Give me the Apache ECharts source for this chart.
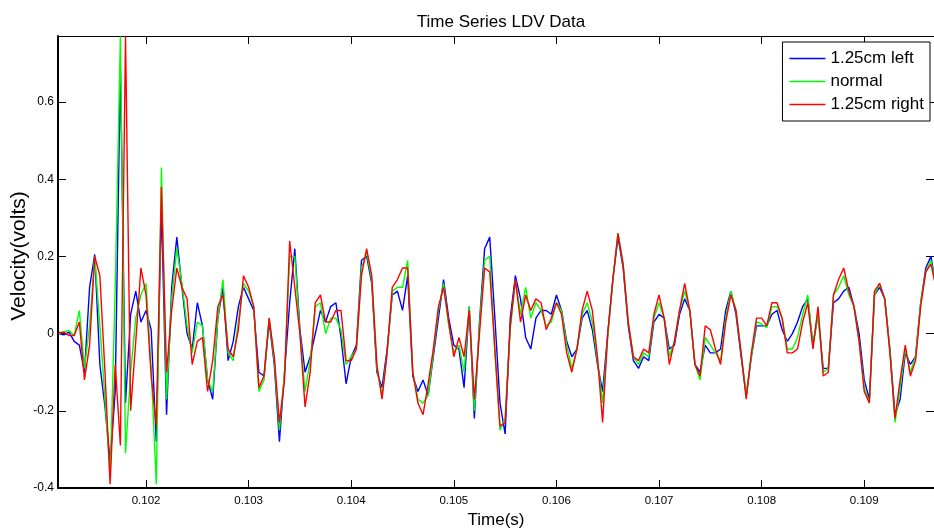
<!DOCTYPE html>
<html>
<head>
<meta charset="utf-8">
<script src="https://cdn.jsdelivr.net/npm/echarts@6/dist/echarts.min.js"></script>
<style>
  html, body { margin: 0; padding: 0; background: #fff; }
  #main { width: 934px; height: 528px; }
</style>
</head>
<body>
<div id="main"></div>
<script>
// LDV velocity record, three probe positions, sampled every 50 microseconds
const T0 = 0.10115;
const DT = 0.00005;

const leftValues = [
  0.0, -0.003, 0.004, -0.02, -0.03, -0.1, 0.12, 0.205, -0.08, -0.19,
  -0.33, -0.15, 0.69, -0.18, 0.05, 0.11, 0.03, 0.06, 0.01, -0.28,
  0.33, -0.21, 0.12, 0.25, 0.12, 0.0, -0.04, 0.08, 0.02, -0.12,
  -0.17, 0.04, 0.12, -0.07, -0.02, 0.07, 0.12, 0.09, 0.06, -0.1,
  -0.11, 0.03, -0.08, -0.28, -0.1, 0.08, 0.22, 0.01, -0.1, -0.06,
  0.0, 0.06, 0.03, 0.07, 0.08, -0.01, -0.13, -0.06, -0.03, 0.19,
  0.2, 0.13, -0.1, -0.14, -0.04, 0.1, 0.11, 0.06, 0.15, -0.11,
  -0.15, -0.12, -0.16, -0.06, 0.04, 0.14, 0.04, -0.03, -0.04, -0.14,
  0.07, -0.22, 0.03, 0.22, 0.25, 0.04, -0.18, -0.26, 0.04, 0.15,
  0.09, -0.01, -0.04, 0.04, 0.06, 0.06, 0.05, 0.1, 0.06, -0.02,
  -0.06, -0.04, 0.04, 0.06, 0.01, -0.08, -0.15, 0.0, 0.14, 0.25,
  0.17, 0.02, -0.07, -0.09, -0.06, -0.07, 0.03, 0.05, 0.04, -0.04,
  -0.03, 0.05, 0.09, 0.06, -0.08, -0.1, -0.03, -0.05, -0.05, -0.04,
  0.06, 0.11, 0.05, -0.06, -0.16, -0.06, 0.02, 0.02, 0.02, 0.05,
  0.06, 0.01, -0.02, 0.0, 0.03, 0.07, 0.09, -0.03, 0.05, -0.09,
  -0.09, 0.08, 0.09, 0.11, 0.12, 0.07, 0.0, -0.12, -0.17, 0.1,
  0.12, 0.09, -0.04, -0.21, -0.17, -0.05, -0.08, -0.06, 0.08, 0.17,
  0.2, 0.12
];

const normalValues = [
  0.0, 0.005, 0.008, -0.005, 0.06, -0.09, 0.02, 0.2, 0.02, -0.17,
  -0.37, 0.12, 0.77, -0.31, -0.1, 0.04, 0.1, 0.13, -0.09, -0.39,
  0.43, -0.17, 0.09, 0.22, 0.13, 0.02, -0.05, 0.03, 0.02, -0.12,
  -0.15, 0.04, 0.14, -0.05, -0.07, 0.03, 0.13, 0.11, 0.07, -0.15,
  -0.12, 0.04, -0.07, -0.25, -0.1, 0.2, 0.2, 0.0, -0.15, -0.07,
  0.07, 0.08, 0.0, 0.04, 0.04, 0.01, -0.08, -0.06, -0.04, 0.17,
  0.21, 0.14, -0.09, -0.16, -0.05, 0.11, 0.12, 0.12, 0.19, -0.1,
  -0.17, -0.18, -0.16, -0.05, 0.06, 0.13, 0.02, -0.05, -0.03, -0.1,
  0.07, -0.2, 0.02, 0.19, 0.2, -0.05, -0.25, -0.22, 0.01, 0.14,
  0.05, 0.12, 0.04, 0.08, 0.06, 0.02, 0.03, 0.08, 0.06, -0.03,
  -0.09, -0.04, 0.05, 0.08, 0.03, -0.07, -0.18, -0.01, 0.14, 0.26,
  0.18, 0.03, -0.06, -0.08, -0.05, -0.06, 0.04, 0.08, 0.04, -0.06,
  -0.02, 0.06, 0.11, 0.06, -0.08, -0.12, -0.01, -0.03, -0.05, -0.07,
  0.04, 0.11, 0.06, -0.05, -0.16, -0.06, 0.03, 0.025, 0.015, 0.07,
  0.07, 0.04, -0.04, -0.04, -0.01, 0.05, 0.1, -0.03, 0.05, -0.1,
  -0.09, 0.1, 0.12, 0.15, 0.1, 0.07, -0.02, -0.14, -0.18, 0.1,
  0.13, 0.09, -0.04, -0.23, -0.14, -0.04, -0.1, -0.06, 0.08, 0.16,
  0.19, 0.12
];

const rightValues = [
  0.003, 0.003, -0.005, -0.005, 0.03, -0.12, -0.03, 0.2, 0.15, -0.1,
  -0.39, -0.08, -0.29, 0.77, -0.2, -0.02, 0.17, 0.1, -0.11, -0.24,
  0.38, -0.1, 0.06, 0.17, 0.12, 0.09, -0.08, -0.02, -0.01, -0.15,
  -0.07, 0.07, 0.1, -0.04, -0.06, 0.01, 0.15, 0.12, 0.07, -0.14,
  -0.11, 0.04, -0.06, -0.23, -0.12, 0.24, 0.12, 0.0, -0.19, -0.1,
  0.08, 0.1, 0.03, 0.03, 0.06, 0.06, -0.07, -0.07, -0.04, 0.15,
  0.22, 0.15, -0.08, -0.17, -0.05, 0.12, 0.14, 0.17, 0.17, -0.1,
  -0.18, -0.21, -0.13, -0.04, 0.07, 0.12, 0.03, -0.06, -0.01, -0.06,
  0.06, -0.17, 0.0, 0.17, 0.16, -0.04, -0.24, -0.23, 0.02, 0.14,
  0.03, 0.1, 0.06, 0.09, 0.08, 0.01, 0.04, 0.08, 0.05, -0.05,
  -0.1, -0.04, 0.06, 0.11, 0.06, -0.06, -0.23, 0.0, 0.14, 0.26,
  0.18, 0.03, -0.06, -0.07, -0.04, -0.05, 0.05, 0.1, 0.04, -0.08,
  -0.02, 0.06, 0.13, 0.06, -0.08, -0.11, 0.02, 0.01, -0.04, -0.08,
  0.03, 0.1, 0.06, -0.05, -0.17, -0.05, 0.04, 0.04, 0.02, 0.08,
  0.08, 0.04, -0.05, -0.05, -0.04, 0.03, 0.08, -0.04, 0.07, -0.11,
  -0.1, 0.1, 0.14, 0.17, 0.11, 0.07, -0.02, -0.15, -0.18, 0.11,
  0.13, 0.09, -0.05, -0.22, -0.12, -0.03, -0.11, -0.07, 0.07, 0.16,
  0.18, 0.12
];

const seriesNames = ['1.25cm left', 'normal', '1.25cm right'];
const seriesColors = ['#0000ff', '#00ff00', '#ff0000'];
const timeTicks = [0.102, 0.103, 0.104, 0.105, 0.106, 0.107, 0.108, 0.109];
const velocityTicks = [-0.4, -0.2, 0, 0.2, 0.4, 0.6];

const T_MIN = 0.101142;
const T_MAX = 0.10968;
const V_MIN = -0.4;
const V_MAX = 0.771;

const FONT = "'Liberation Sans', Arial, Helvetica, sans-serif";

function toPairs(values) {
  return values.map((v, i) => [T0 + i * DT, v]);
}

const chart = echarts.init(document.getElementById('main'), null, { renderer: 'canvas' });

const tickStyle = { inside: true, length: 8, lineStyle: { color: '#000', width: 1 } };

chart.setOption({
  backgroundColor: '#fff',
  animation: false,
  title: {
    text: 'Time Series LDV Data',
    left: 496,
    top: 9,
    textAlign: 'center',
    textStyle: { fontFamily: FONT, fontSize: 17, fontWeight: 'normal', color: '#000' }
  },
  legend: {
    orient: 'vertical',
    right: 4,
    top: 42,
    padding: [7, 6, 7, 7],
    itemGap: 4,
    itemWidth: 36,
    itemHeight: 1.5,
    icon: 'rect',
    backgroundColor: '#fff',
    borderColor: '#000',
    borderWidth: 1,
    textStyle: { fontFamily: FONT, fontSize: 17, color: '#000', lineHeight: 19 },
    data: seriesNames
  },
  grid: { left: 58, right: 0, top: 36, bottom: 40, containLabel: false, outerBoundsMode: 'none' },
  xAxis: [
    {
      type: 'value',
      position: 'bottom',
      min: T_MIN,
      max: T_MAX,
      name: 'Time(s)',
      nameLocation: 'middle',
      nameGap: 23,
      nameTextStyle: { fontFamily: FONT, fontSize: 17, color: '#000' },
      axisLine: { show: true, onZero: false, lineStyle: { color: '#000', width: 2 } },
      axisTick: Object.assign({ customValues: timeTicks }, tickStyle),
      axisLabel: {
        customValues: timeTicks,
        margin: 7,
        fontFamily: FONT,
        fontSize: 11.5,
        color: '#000',
        formatter: v => v.toFixed(3)
      },
      splitLine: { show: false }
    },
    {
      type: 'value',
      position: 'top',
      min: T_MIN,
      max: T_MAX,
      axisLine: { show: true, onZero: false, lineStyle: { color: '#000', width: 1 } },
      axisTick: Object.assign({ customValues: timeTicks }, tickStyle),
      axisLabel: { show: false },
      splitLine: { show: false }
    }
  ],
  yAxis: [
    {
      type: 'value',
      position: 'left',
      min: V_MIN,
      max: V_MAX,
      name: 'Velocity(volts)',
      nameLocation: 'middle',
      nameRotate: 90,
      nameGap: 28,
      nameMoveOverlap: false,
      nameTextStyle: { fontFamily: FONT, fontSize: 21, color: '#000', padding: [0, 0, 0, 12] },
      axisLine: { show: true, onZero: false, lineStyle: { color: '#000', width: 2 } },
      axisTick: Object.assign({ customValues: velocityTicks }, tickStyle),
      axisLabel: {
        customValues: velocityTicks,
        margin: 4,
        fontFamily: FONT,
        fontSize: 12,
        color: '#000',
        formatter: v => (Math.abs(v) < 1e-9 ? '0' : v.toFixed(1))
      },
      splitLine: { show: false }
    },
    {
      type: 'value',
      position: 'right',
      min: V_MIN,
      max: V_MAX,
      axisLine: { show: true, onZero: false, lineStyle: { color: '#000', width: 1 } },
      axisTick: Object.assign({ customValues: velocityTicks }, tickStyle),
      axisLabel: { show: false },
      splitLine: { show: false }
    }
  ],
  series: [leftValues, normalValues, rightValues].map((vals, k) => ({
    name: seriesNames[k],
    type: 'line',
    xAxisIndex: 0,
    yAxisIndex: 0,
    data: toPairs(vals),
    showSymbol: false,
    symbol: 'none',
    clip: true,
    color: seriesColors[k],
    lineStyle: { color: seriesColors[k], width: 1.4 },
    z: 2 + k
  }))
});
</script>
</body>
</html>
